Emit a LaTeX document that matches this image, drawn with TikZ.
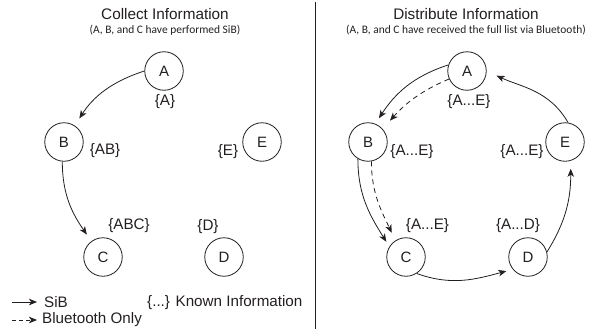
\documentclass[tikz,border=0pt]{standalone}
\usepackage{fontspec}
\setmainfont{Liberation Sans}
\newfontfamily\subfont{Carlito}
\usetikzlibrary{arrows.meta}
\definecolor{ink}{HTML}{231F20}
\tikzset{
  x=1pt,y=-1pt,
  every node/.style={text=ink},
  peer/.style={draw=ink,circle,line width=0.8pt,minimum size=38.5pt,inner sep=0pt,font=\fontsize{15}{15}\selectfont},
  info/.style={font=\fontsize{15.2}{16}\selectfont,inner sep=0pt},
  heading/.style={font=\fontsize{15.3}{16}\selectfont,inner sep=0pt},
  subheading/.style={font=\subfont\fontsize{11.45}{12}\selectfont,inner sep=0pt},
  sib/.style={draw=ink,line width=0.8pt,-{Stealth[length=8pt,width=6.5pt,inset=2.2pt]}},
  bt/.style={sib,dash pattern=on 5pt off 4pt},
}
\begin{document}
\begin{tikzpicture}
\useasboundingbox (0,0) rectangle (596,332);
\coordinate (divtop) at (315.7,2);
\coordinate (divbot) at (315.7,329);
\draw[ink,line width=0.9pt] (divtop) -- (divbot);
% left
\node[heading] (t1) at (165,14) {Collect Information};
\node[subheading] (s1) at (165,30.5) {(A, B, and C have performed SiB)};
\node[peer] (A) at (164,71) {A};
\node[peer] (B) at (64,142) {B};
\node[peer] (C) at (103,257) {C};
\node[peer] (D) at (224,257) {D};
\node[peer] (E) at (262,142) {E};
\node[info] (la) at (165,102) {\{A\}};
\node[info] (lb) at (105,151) {\{AB\}};
\node[info] (lc) at (129,226) {\{ABC\}};
\node[info] (ld) at (208,227) {\{D\}};
\node[info] (le) at (228,152) {\{E\}};
\draw[sib,shorten >=8.5pt] (A.180) to[out=198,in=57] (B.57);
\draw[sib,shorten >=8pt] (B.-95) to[out=-90,in=125] (C.126);
% right
\node[heading] (t2) at (466,14) {Distribute Information};
\node[subheading] (s2) at (466,30.5) {(A, B, and C have received the full list via Bluetooth)};
\node[peer] (A2) at (467,71) {A};
\node[peer] (B2) at (368,142) {B};
\node[peer] (C2) at (406,257) {C};
\node[peer] (D2) at (528,257) {D};
\node[peer] (E2) at (565,142) {E};
\node[info] (la2) at (469,102) {\{A...E\}};
\node[info] (lb2) at (412,152) {\{A...E\}};
\node[info] (lc2) at (427.5,226) {\{A...E\}};
\node[info] (ld2) at (518,226) {\{A...D\}};
\node[info] (le2) at (522,152) {\{A...E\}};
\draw[sib,shorten >=6.6pt] (A2.162) to[out=198,in=57] (B2.68);
\draw[bt,shorten >=11pt] (A2.204) to[out=203,in=48] (B2.42);
\draw[sib,shorten >=5.7pt] (B2.-121) to[out=-90,in=122] (C2.148);
\draw[bt,shorten >=8.5pt] (B2.-80) to[out=-90,in=115] (C2.123);
\draw[sib,shorten >=6.6pt] (C2.-57) to[out=-20,in=195] (D2.219);
\draw[sib,shorten >=8pt] (D2.15) to[out=58,in=-90] (E2.-73);
\draw[sib,shorten >=11pt] (E2.81) to[out=120,in=-25] (A2.0);
% legend
\coordinate (k1a) at (12,302);
\coordinate (k1b) at (37,302);
\coordinate (k2a) at (12,320);
\coordinate (k2b) at (37,320);
\draw[sib] (k1a) -- (k1b);
\draw[bt,dash pattern=on 4pt off 3pt] (k2a) -- (k2b);
\node[info,anchor=west] (ksib) at (44,302) {SiB};
\node[info,anchor=west] (kbt) at (42,319.5) {Bluetooth Only};
\node[info,anchor=west] (kinfo) at (147,303) {\{...\} Known Information};
\end{tikzpicture}
\end{document}
